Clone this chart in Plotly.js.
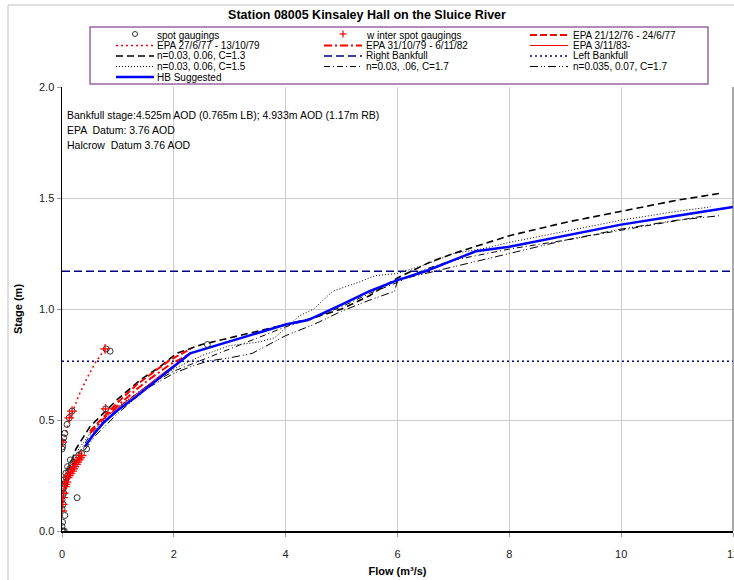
<!DOCTYPE html>
<html><head><meta charset="utf-8">
<script src="https://cdn.plot.ly/plotly-3.0.1.min.js"></script>
<style>html,body{margin:0;padding:0;background:#fff}#chart{width:734px;height:580px}</style>
</head><body><div id="chart"></div>
<script>
// ---- data ----
var spotX = [0.0,0.02,0.04,0.0,0.01,0.05,0.0,0.02,0.0,0.01,0.03,0.02,0.04,0.05,0.06,0.03,0.08,0.1,0.07,0.12,0.14,0.1,0.17,0.2,0.15,0.25,0.3,0.35,0.0,0.01,0.02,0.03,0.05,0.09,0.13,0.18,0.27,0.44,0.78,0.79,0.86,2.6];
var spotY = [0.0,0.0,0.0,0.02,0.04,0.07,0.10,0.12,0.14,0.16,0.17,0.19,0.2,0.21,0.22,0.23,0.24,0.25,0.26,0.27,0.28,0.29,0.3,0.31,0.32,0.33,0.34,0.35,0.37,0.38,0.4,0.42,0.44,0.48,0.51,0.54,0.15,0.37,0.55,0.82,0.81,0.84];
var winterX = [0.0,0.01,0.02,0.03,0.05,0.06,0.08,0.1,0.12,0.15,0.18,0.2,0.22,0.25,0.27,0.3,0.32,0.35,0.0,0.13,0.18,0.78,0.77];
var winterY = [0.09,0.12,0.15,0.17,0.2,0.21,0.22,0.24,0.25,0.26,0.27,0.28,0.29,0.3,0.31,0.32,0.33,0.34,0.40,0.51,0.54,0.55,0.82];

var epa7677X = [0.5,0.8,1.0,1.34,1.6,1.93,2.3];
var epa7677Y = [0.45,0.53,0.58,0.66,0.71,0.77,0.82];
var epa7779X = [0.0,0.05,0.1,0.18,0.3,0.45,0.6,0.77];
var epa7779Y = [0.38,0.43,0.47,0.53,0.61,0.69,0.76,0.82];
var epa7982X = [0.5,0.8,1.0,1.34,1.6,1.93,2.3];
var epa7982Y = [0.44,0.52,0.565,0.64,0.69,0.75,0.80];
var epa83X = [0.8,1.0,1.4,1.8,2.2];
var epa83Y = [0.52,0.555,0.63,0.71,0.78];

var c13X = [0.05,0.12,0.25,0.5,1.0,1.4,1.75,2.05,2.5,3.0,3.5,4.0,4.5,5.0,5.5,6.0,6.57,7.0,8.0,9.0,10.0,11.0,11.75];
var c13Y = [0.22,0.28,0.37,0.47,0.595,0.68,0.74,0.80,0.84,0.87,0.90,0.93,0.96,1.00,1.06,1.14,1.21,1.25,1.33,1.39,1.44,1.49,1.52];
var c15X = [0.05,0.1,0.3,0.5,1.0,1.5,2.0,2.5,3.0,3.5,3.8,4.25,4.5,4.84,5.3,5.6,6.0,6.5,7.0,7.5,8.0,9.0,10.0,11.0,11.6];
var c15Y = [0.2,0.25,0.37,0.44,0.56,0.65,0.73,0.79,0.835,0.85,0.87,0.97,1.0,1.08,1.12,1.15,1.16,1.20,1.25,1.27,1.30,1.35,1.40,1.44,1.46];
var c17X = [0.1,0.25,0.5,1.0,1.5,2.0,2.5,3.0,3.5,4.0,4.5,5.0,5.5,6.0,6.5,7.0,8.0,9.0,10.0,11.0,11.5];
var c17Y = [0.24,0.33,0.43,0.555,0.65,0.72,0.77,0.82,0.87,0.92,0.96,1.01,1.07,1.12,1.18,1.22,1.27,1.31,1.355,1.40,1.42];
var n035X = [0.1,0.2,0.3,0.6,1.0,1.5,2.0,2.3,2.6,3.0,3.4,4.0,4.5,5.0,5.5,5.95,6.0,6.5,7.0,7.8,9.0,10.0,11.0,11.75];
var n035Y = [0.22,0.28,0.33,0.43,0.53,0.64,0.71,0.74,0.765,0.78,0.80,0.88,0.93,0.99,1.04,1.08,1.13,1.16,1.19,1.24,1.31,1.36,1.40,1.42];

var bankX = [0, 12];
var rightBankfull = 1.17;
var leftBankfull = 0.765;

var hbX = [0.41,0.55,0.75,1.0,1.3,1.6,2.0,2.29,4.0,4.4,5.0,5.5,6.0,6.5,7.0,7.4,8.0,9.0,10.0,11.0,12.0];
var hbY = [0.38,0.43,0.49,0.545,0.60,0.66,0.74,0.80,0.93,0.95,1.02,1.08,1.13,1.17,1.22,1.26,1.28,1.33,1.38,1.42,1.46];

var xTicks = [0,2,4,6,8,10,12];
var yTicks = [0,0.5,1.0,1.5,2.0];

var legendLabels = ['spot gaugings','w inter spot gaugings','EPA 21/12/76 - 24/6/77',
  'EPA 27/6/77 - 13/10/79','EPA 31/10/79 - 6/11/82','EPA 3/11/83-',
  'n=0.03, 0.06, C=1.3','Right Bankfull','Left Bankfull',
  'n=0.03, 0.06, C=1.5','n=0.03, .06, C=1.7','n=0.035, 0.07, C=1.7','HB Suggested'];

var noteLines = ['Bankfull stage:4.525m AOD (0.765m LB); 4.933m AOD (1.17m RB)','EPA  Datum: 3.76 AOD','Halcrow  Datum 3.76 AOD'];

// ---- styles ----
var FONT = 'Liberation Sans, Arial, sans-serif';
var styles = [
  {kind:'circle', color:'#333'},
  {kind:'cross', color:'#ff0000'},
  {kind:'line', color:'#ff0000', dash:'7px,3px', width:2},
  {kind:'line', color:'#ff0000', dash:'2px,3px', width:1.5},
  {kind:'line', color:'#ff0000', dash:'8px,3px,2px,3px', width:2},
  {kind:'line', color:'#ff0000', dash:'solid', width:1},
  {kind:'line', color:'#000000', dash:'7px,4px', width:1.6},
  {kind:'line', color:'#000080', dash:'8px,4px', width:1.4},
  {kind:'line', color:'#000080', dash:'2px,3px', width:1.5},
  {kind:'line', color:'#000000', dash:'1px,2px', width:1},
  {kind:'line', color:'#000000', dash:'6px,3px,1px,3px', width:1},
  {kind:'line', color:'#000000', dash:'8px,3px,1px,2px,1px,3px', width:1},
  {kind:'line', color:'#0000ff', dash:'solid', width:2.5}
];

function ln(x, y, i) {
  return {x:x, y:y, type:'scatter', mode:'lines', name:legendLabels[i], showlegend:false,
    line:{color:styles[i].color, dash:styles[i].dash, width:styles[i].width}, hoverinfo:'skip'};
}

var traces = [
  ln(c13X, c13Y, 6),
  ln(c15X, c15Y, 9),
  ln(c17X, c17Y, 10),
  ln(n035X, n035Y, 11),
  ln(bankX, [rightBankfull, rightBankfull], 7),
  ln(bankX, [leftBankfull, leftBankfull], 8),
  ln(epa7779X, epa7779Y, 3),
  ln(epa7677X, epa7677Y, 2),
  ln(epa7982X, epa7982Y, 4),
  ln(epa83X, epa83Y, 5),
  ln(hbX, hbY, 12),
  {x:spotX, y:spotY, type:'scatter', mode:'markers', name:legendLabels[0], showlegend:false,
    marker:{symbol:'circle-open', size:6, color:'#333', line:{width:1, color:'#333'}}},
  {x:winterX, y:winterY, type:'scatter', mode:'markers', name:legendLabels[1], showlegend:false,
    marker:{symbol:'cross-thin-open', size:7, color:'#ff0000', line:{width:1.3, color:'#ff0000'}}}
];

// ---- layout helpers (pixel -> paper) ----
var L = 62, T = 87, W = 671, H = 444;
function px(x) { return (x - L) / W; }
function py(y) { return (T + H - y) / H; }

var shapes = [];
var annotations = [];

// outer frame (left/top)
shapes.push({type:'line', xref:'paper', yref:'paper', x0:px(8), x1:px(8), y0:py(5), y1:py(600), line:{color:'#c0c0c0', width:1}});
shapes.push({type:'line', xref:'paper', yref:'paper', x0:px(8), x1:px(760), y0:py(5), y1:py(5), line:{color:'#c0c0c0', width:1}});
// right border of plot
shapes.push({type:'line', xref:'paper', yref:'paper', x0:1, x1:1, y0:0, y1:1, line:{color:'#555', width:1}});

// legend box
shapes.push({type:'rect', xref:'paper', yref:'paper', x0:px(90), x1:px(708), y0:py(27), y1:py(84),
  fillcolor:'#ffffff', line:{color:'#9b64a3', width:1.5}});
var colSym = [116, 324, 530];
var colTxt = [156, 365, 572];
var rowY = [35, 45.5, 56, 66.5, 77];
legendLabels.forEach(function(lab, i) {
  var c = i % 3, r = Math.floor(i / 3);
  var yy = rowY[r];
  var s = styles[i];
  var x0 = colSym[c], x1 = colSym[c] + 38, xm = (x0 + x1) / 2;
  if (s.kind === 'circle') {
    shapes.push({type:'circle', xref:'paper', yref:'paper', x0:px(xm-2.5), x1:px(xm+2.5), y0:py(yy-2.5-1), y1:py(yy+2.5-1), line:{color:s.color, width:1}});
  } else if (s.kind === 'cross') {
    shapes.push({type:'line', xref:'paper', yref:'paper', x0:px(xm-3.5), x1:px(xm+3.5), y0:py(yy-1), y1:py(yy-1), line:{color:s.color, width:1.2}});
    shapes.push({type:'line', xref:'paper', yref:'paper', x0:px(xm), x1:px(xm), y0:py(yy-4.5), y1:py(yy+2.5), line:{color:s.color, width:1.2}});
  } else {
    shapes.push({type:'line', xref:'paper', yref:'paper', x0:px(x0), x1:px(x1), y0:py(yy), y1:py(yy), line:{color:s.color, width:s.width, dash:s.dash}});
  }
  annotations.push({xref:'paper', yref:'paper', x:px(colTxt[c]), y:py(yy), xanchor:'left', yanchor:'middle',
    text:lab, showarrow:false, borderpad:0, font:{family:FONT, size:10, color:'#000'}});
});

noteLines.forEach(function(t, i) {
  annotations.push({xref:'paper', yref:'paper', x:px(65), y:py(115 + i*15), xanchor:'left', yanchor:'middle',
    text:t, showarrow:false, font:{family:FONT, size:10.5, color:'#000'}});
});

var layout = {
  width:734, height:580,
  margin:{l:L, r:1, t:T, b:49},
  paper_bgcolor:'#ffffff', plot_bgcolor:'#ffffff',
  font:{family:FONT, size:11, color:'#000'},
  showlegend:false,
  title:{text:'<b>Station 08005 Kinsaley Hall on the Sluice River</b>', x:0.5, xanchor:'center', y:1 - 15/580, yanchor:'middle', font:{family:FONT, size:12.5, color:'#000'}},
  xaxis:{range:[0,12], tickvals:xTicks, ticktext:xTicks.map(String), showgrid:true, gridcolor:'#cccccc', gridwidth:1,
    showline:true, linecolor:'#000', linewidth:1.5, ticks:'outside', ticklen:4, tickcolor:'#999', zeroline:false,
    ticklabelstandoff:8, ticklabeloverflow:'allow',
    tickfont:{family:FONT, size:11, color:'#222'},
    title:{text:'<b>Flow (m³/s)</b>', font:{family:FONT, size:11, color:'#000'}, standoff:8}},
  yaxis:{range:[0,2], tickvals:yTicks, tickformat:'.1f', showgrid:true, gridcolor:'#cccccc', gridwidth:1,
    showline:true, linecolor:'#000', linewidth:1.5, ticks:'outside', ticklen:4, tickcolor:'#999', zeroline:false,
    tickfont:{family:FONT, size:11, color:'#222'},
    title:{text:'<b>Stage (m)</b>', font:{family:FONT, size:11, color:'#000'}, standoff:14}},
  shapes:shapes,
  annotations:annotations
};

Plotly.newPlot('chart', traces, layout, {staticPlot:true, displayModeBar:false});
</script></body></html>
